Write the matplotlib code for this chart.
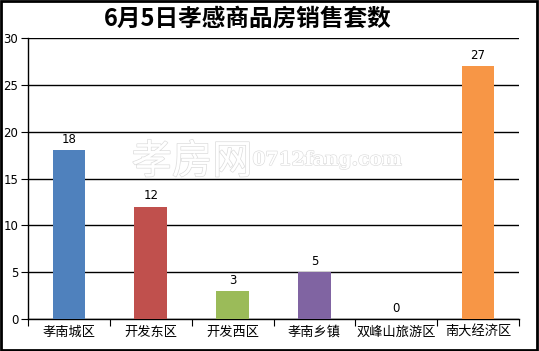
import matplotlib
matplotlib.use("Agg")
import matplotlib.pyplot as plt
import matplotlib.patheffects as pe
from matplotlib.patches import Rectangle

plt.rcParams['font.family'] = ['Noto Sans CJK SC', 'DejaVu Sans']

# --- Datos ---
categorias = ["孝南城区", "开发东区", "开发西区", "孝南乡镇", "双峰山旅游区", "南大经济区"]
valores = [18, 12, 3, 5, 0, 27]
colores = ["#4F81BD", "#C0504D", "#9BBB59", "#8064A2", "#4BACC6", "#F79646"]
titulo = "6月5日孝感商品房销售套数"
yticks = [0, 5, 10, 15, 20, 25, 30]

fig = plt.figure(figsize=(5.39, 3.51), dpi=100)
ax = fig.add_axes([28 / 539, 1 - 319 / 351, (519 - 28) / 539, (319 - 38) / 351])

x = list(range(len(categorias)))
bars = ax.bar(x, valores, width=0.4, color=colores, zorder=3)
for xi, v in zip(x, valores):
    ax.annotate(str(v), (xi, v), xytext=(0, 3), textcoords="offset points",
                ha="center", va="bottom", fontsize=8.5, family="DejaVu Sans")

ax.set_xlim(-0.5, len(categorias) - 0.5)
ax.set_ylim(0, 30)
ax.set_yticks(yticks)
ax.set_yticklabels([str(t) for t in yticks], fontsize=8.5, family="DejaVu Sans")
ax.set_xticks([i - 0.5 for i in range(len(categorias) + 1)])
ax.set_xticklabels([])
ax.set_xticks(x, minor=True)
ax.set_xticklabels(categorias, minor=True, fontsize=9.5)
ax.tick_params(axis="x", which="minor", length=0, pad=5)
ax.tick_params(axis="x", which="major", length=5, direction="out", color="black")
ax.tick_params(axis="y", length=5, direction="out", pad=2)
ax.yaxis.grid(True, color="black", linewidth=1, zorder=0)
ax.spines["right"].set_visible(False)
ax.spines["top"].set_visible(False)
for s in ["left", "bottom"]:
    ax.spines[s].set_linewidth(1)

# marca de agua
fig.text(192 / 539, 1 - 162 / 351, "孝房网", fontsize=29, color="white", ha="center", va="center",
         path_effects=[pe.withStroke(linewidth=1.0, foreground="#dcdcdc")], zorder=5)
fig.text(327 / 539, 1 - 160 / 351, "0712fang.com", fontsize=13.5, color="white", ha="center", va="center",
         family="DejaVu Serif", fontweight="bold",
         path_effects=[pe.withStroke(linewidth=0.9, foreground="#dcdcdc")], zorder=5)

fig.text(248 / 539, 1 - 19 / 351, titulo, fontsize=17, fontweight="bold", ha="center", va="center")

fig.patches.append(Rectangle((0.002, 0.004), 0.994, 0.992, transform=fig.transFigure,
                             fill=False, edgecolor="black", linewidth=2))

fig.savefig("out.png", dpi=100)
